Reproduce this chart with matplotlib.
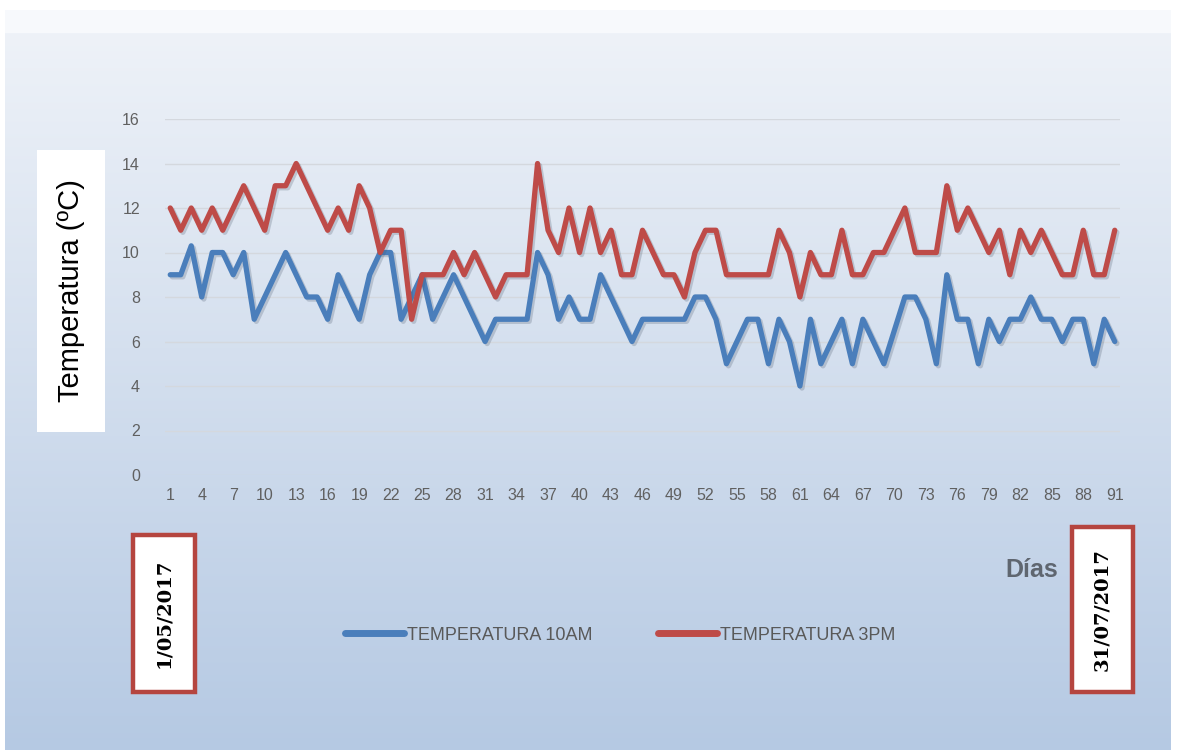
import numpy as np
import matplotlib.pyplot as plt
import matplotlib.patheffects as pe
from matplotlib.patches import Rectangle

# Daily readings, 1 May - 31 July 2017
dias = list(range(1, 92))
temp_10am = [9, 9, 10.3, 8, 10, 10, 9, 10, 7, 8,
             9, 10, 9, 8, 8, 7, 9, 8, 7, 9,
             10, 10, 7, 8, 9, 7, 8, 9, 8, 7,
             6, 7, 7, 7, 7, 10, 9, 7, 8, 7,
             7, 9, 8, 7, 6, 7, 7, 7, 7, 7,
             8, 8, 7, 5, 6, 7, 7, 5, 7, 6,
             4, 7, 5, 6, 7, 5, 7, 6, 5, 6.5,
             8, 8, 7, 5, 9, 7, 7, 5, 7, 6,
             7, 7, 8, 7, 7, 6, 7, 7, 5, 7,
             6]
temp_3pm = [12, 11, 12, 11, 12, 11, 12, 13, 12, 11,
            13, 13, 14, 13, 12, 11, 12, 11, 13, 12,
            10, 11, 11, 7, 9, 9, 9, 10, 9, 10,
            9, 8, 9, 9, 9, 14, 11, 10, 12, 10,
            12, 10, 11, 9, 9, 11, 10, 9, 9, 8,
            10, 11, 11, 9, 9, 9, 9, 9, 11, 10,
            8, 10, 9, 9, 11, 9, 9, 10, 10, 11,
            12, 10, 10, 10, 13, 11, 12, 11, 10, 11,
            9, 11, 10, 11, 10, 9, 9, 11, 9, 9,
            11]
series_names = ['TEMPERATURA 10AM', 'TEMPERATURA 3PM']
series_colors = ['#4a7ebb', '#be4b48']
fecha_inicio = '1/05/2017'
fecha_fin = '31/07/2017'

W, H = 1177, 750
fig = plt.figure(figsize=(W / 100, H / 100), dpi=100)

# background: white border, pale strip on top, then blue gradient
bg = np.ones((H, W, 3))
top_c = np.array([238, 242, 248]) / 255
bot_c = np.array([181, 201, 227]) / 255
rows = np.arange(33, H)
t = ((rows - 33) / (H - 33))[:, None]
bg[33:, 5:1171] = (top_c * (1 - t) + bot_c * t)[:, None, :]
bg[10:33, 5:1171] = np.array([247, 249, 252]) / 255
bg_ax = fig.add_axes([0, 0, 1, 1], zorder=-2)
bg_ax.imshow(bg, aspect='auto', interpolation='bilinear')
bg_ax.set_axis_off()

ax = fig.add_axes([165 / W, 1 - 475 / H, 955 / W, 356 / H], zorder=1)
ax.set_facecolor('none')

shadow = [pe.SimpleLineShadow(offset=(1.5, -1.5), shadow_color='#4c5a6e', alpha=0.25),
          pe.Normal()]
lines = []
for vals, name, col in zip([temp_10am, temp_3pm], series_names, series_colors):
    ln, = ax.plot(dias, vals, color=col, lw=3.8, label=name,
                  solid_joinstyle='round', solid_capstyle='round',
                  path_effects=shadow, zorder=3)
    lines.append(ln)

ax.set_xlim(0.5, 91.5)
ax.set_ylim(0, 16)
ax.set_yticks(range(0, 17, 2))
ax.set_xticks(dias[::3])
ax.grid(axis='y', color='#d4d8de', lw=1)
ax.set_axisbelow(True)
for s in ax.spines.values():
    s.set_visible(False)
ax.tick_params(length=0, labelsize=11.5, labelcolor='#606060')
ax.tick_params(axis='y', pad=18)
ax.tick_params(axis='x', pad=9)
for lab in ax.get_xticklabels() + ax.get_yticklabels():
    lab.set_family(['Liberation Sans', 'DejaVu Sans'])

# y-axis title in its white box
fig.add_artist(Rectangle((37 / W, 1 - 432 / H), 68 / W, 282 / H,
                         transform=fig.transFigure, facecolor='white',
                         edgecolor='none', zorder=2))
fig.text(71 / W, 1 - 291 / H, 'Temperatura (ºC)', rotation=90,
         ha='center', va='center', fontsize=21, color='black',
         family=['Liberation Sans', 'DejaVu Sans'], zorder=3)

# date boxes
for (x0, y0, x1, y1), txt in zip([(133, 535, 195, 692), (1072, 527, 1133, 692)],
                                 [fecha_inicio, fecha_fin]):
    fig.add_artist(Rectangle((x0 / W, 1 - y1 / H), (x1 - x0) / W, (y1 - y0) / H,
                             transform=fig.transFigure, facecolor='white',
                             edgecolor='#b5453f', lw=3.2, zorder=2))
    fig.text((x0 + x1) / 2 / W, 1 - (y0 + y1) / 2 / H, txt, rotation=90,
             ha='center', va='center', fontsize=14, fontweight='bold',
             color='black', family=['DejaVu Serif'], zorder=3)

fig.text(1032 / W, 1 - 570 / H, 'Días', ha='center', va='center',
         fontsize=18, fontweight='bold', color='#5f6670',
         family=['Liberation Sans Narrow', 'Liberation Sans', 'DejaVu Sans'])

leg = fig.legend(handles=lines, loc='center', bbox_to_anchor=(620 / W, 1 - 635 / H),
                 ncol=2, frameon=False, handlelength=3.3, handletextpad=0.15,
                 columnspacing=3.6,
                 prop={'family': ['Liberation Sans Narrow', 'Liberation Sans'], 'size': 13})
for txt in leg.get_texts():
    txt.set_color('#595959')
for h in leg.legend_handles:
    h.set_path_effects([])
    h.set_linewidth(5)

fig.savefig('out.png', dpi=100)
